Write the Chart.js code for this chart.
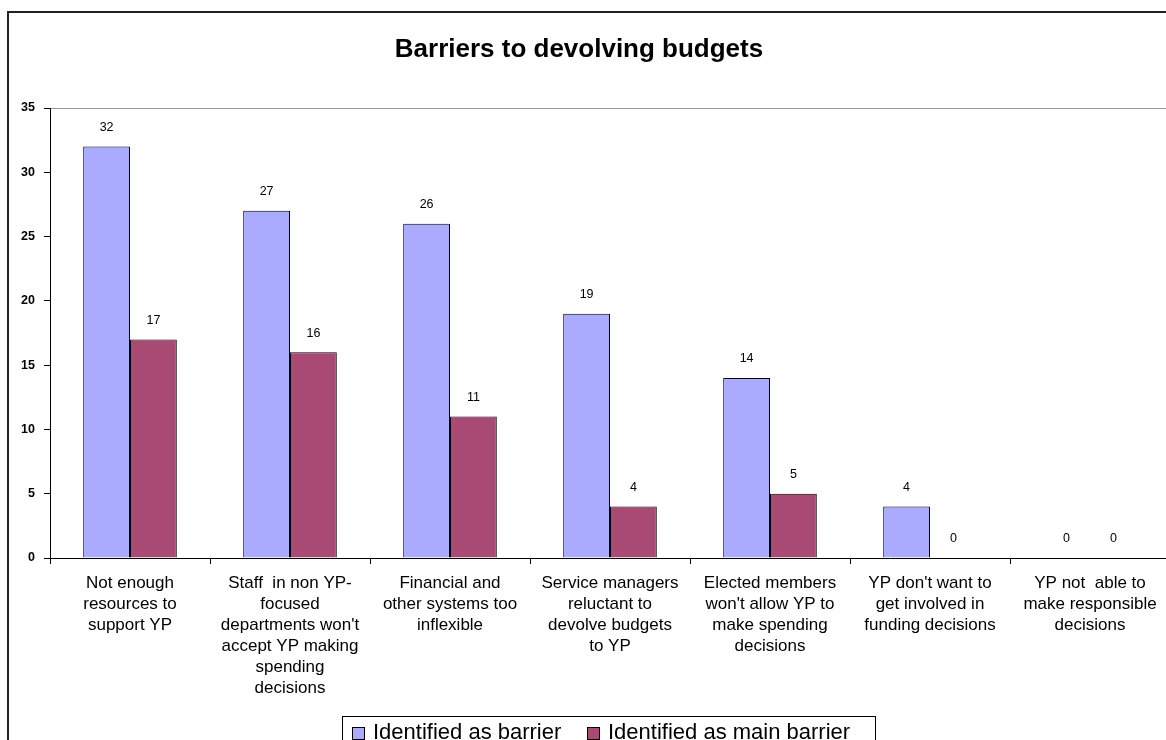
<!DOCTYPE html>
<html>
<head>
<meta charset="utf-8">
<script src="https://cdn.jsdelivr.net/npm/chart.js@4/dist/chart.umd.min.js"></script>
<style>
html,body{margin:0;padding:0;background:#fff;overflow:hidden;width:1166px;height:740px;}
#wrap{position:absolute;left:0;top:0;width:1180px;height:760px;}
</style>
</head>
<body>
<div id="wrap"><canvas id="c" width="1180" height="760"></canvas></div>
<script>
const chartTitle = "Barriers to devolving budgets";
const categories = [
  ["Not enough", "resources to", "support YP"],
  ["Staff  in non YP-", "focused", "departments won't", "accept YP making", "spending", "decisions"],
  ["Financial and", "other systems too", "inflexible"],
  ["Service managers", "reluctant to", "devolve budgets", "to YP"],
  ["Elected members", "won't allow YP to", "make spending", "decisions"],
  ["YP don't want to", "get involved in", "funding decisions"],
  ["YP not  able to", "make responsible", "decisions"]
];
const seriesNames = ["Identified as barrier", "Identified as main barrier"];
const barrierValues = [32, 27, 26, 19, 14, 4, 0];
const mainBarrierValues = [17, 16, 11, 4, 5, 0, 0];
const yTicks = [0, 5, 10, 15, 20, 25, 30, 35];

const FONT = "'Liberation Sans', Arial, sans-serif";
const colors = ['#aaaaff', '#a84a74'];

const framePlugin = {
  id: 'frame',
  beforeDraw(chart) {
    const ctx = chart.ctx;
    ctx.save();
    ctx.fillStyle = '#fff';
    ctx.fillRect(0, 0, chart.width, chart.height);
    ctx.strokeStyle = '#222';
    ctx.lineWidth = 2;
    ctx.strokeRect(8, 12, chart.width + 20, chart.height + 20);
    // title
    ctx.fillStyle = '#000';
    ctx.font = 'bold 26px ' + FONT;
    ctx.textAlign = 'center';
    ctx.textBaseline = 'middle';
    ctx.fillText(chartTitle, 579, 50);
    ctx.restore();
  },
  afterDraw(chart) {
    const ctx = chart.ctx;
    ctx.save();
    // legend box
    ctx.strokeStyle = '#000';
    ctx.lineWidth = 1;
    ctx.fillStyle = '#fff';
    ctx.fillRect(342.5, 716.5, 533, 40);
    ctx.strokeRect(342.5, 716.5, 533, 40);
    const items = [{sx: 352, tx: 373}, {sx: 587, tx: 608}];
    ctx.font = '22px ' + FONT;
    ctx.textBaseline = 'middle';
    ctx.textAlign = 'left';
    chart.data.datasets.forEach((ds, i) => {
      const it = items[i];
      ctx.fillStyle = ds.backgroundColor;
      ctx.fillRect(it.sx + 0.5, 727.5, 12, 12);
      ctx.strokeStyle = '#000';
      ctx.strokeRect(it.sx + 0.5, 727.5, 12, 12);
      ctx.fillStyle = '#000';
      ctx.fillText(ds.label, it.tx, 733);
    });
    ctx.restore();
  },
  afterDatasetsDraw(chart) {
    const ctx = chart.ctx;
    ctx.save();
    ctx.font = '12.5px ' + FONT;
    ctx.fillStyle = '#000';
    ctx.textAlign = 'center';
    ctx.textBaseline = 'middle';
    chart.data.datasets.forEach((ds, i) => {
      const meta = chart.getDatasetMeta(i);
      meta.data.forEach((bar, j) => {
        ctx.fillText(String(ds.data[j]), bar.x, bar.y - 19);
      });
    });
    ctx.restore();
  }
};

new Chart(document.getElementById('c'), {
  type: 'bar',
  data: {
    labels: categories,
    datasets: [
      {label: seriesNames[0], data: barrierValues, backgroundColor: colors[0], borderColor: '#000', borderWidth: 1, borderSkipped: 'bottom'},
      {label: seriesNames[1], data: mainBarrierValues, backgroundColor: colors[1], borderColor: '#000', borderWidth: 1, borderSkipped: 'bottom'}
    ]
  },
  options: {
    responsive: false,
    animation: false,
    devicePixelRatio: 1,
    layout: {padding: {left: 0, right: 10, top: 108, bottom: 0}},
    plugins: {legend: {display: false}, title: {display: false}, tooltip: {enabled: false}},
    datasets: {bar: {categoryPercentage: 0.585, barPercentage: 1}},
    scales: {
      x: {
        grid: {offset: true, drawOnChartArea: false, tickLength: 6, tickColor: '#000'},
        border: {color: '#000', width: 1},
        ticks: {color: '#000', font: {family: FONT, size: 17, lineHeight: 1.235}, padding: 9, maxRotation: 0, autoSkip: false},
        afterFit(s) { s.height = 202; }
      },
      y: {
        min: 0, max: 35,
        afterBuildTicks(s) { s.ticks = yTicks.map(v => ({value: v})); },
        grid: {
          drawOnChartArea: true, tickLength: 6, tickColor: '#000',
          color: c => (c.tick && c.tick.value === 35) ? '#999' : 'rgba(0,0,0,0)'
        },
        border: {color: '#000', width: 1},
        ticks: {color: '#000', font: {family: FONT, size: 12.5, weight: 'bold'}, padding: 9},
        afterFit(s) { s.width = 50; }
      }
    }
  },
  plugins: [framePlugin]
});
</script>
</body>
</html>
